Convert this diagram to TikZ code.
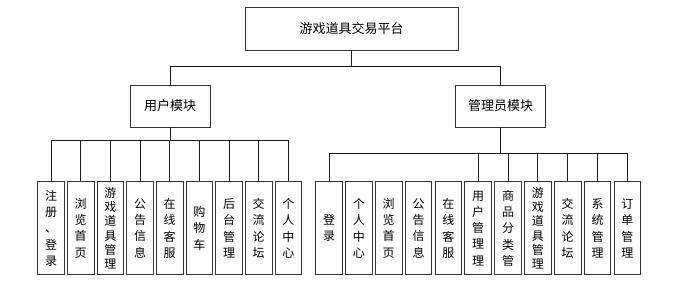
\documentclass[tikz,border=0pt]{standalone}
\usepackage{fontspec}
\setmainfont{Noto Sans CJK SC}
\begin{document}
\begin{tikzpicture}[x=1pt,y=-1pt,
  box/.style={draw=black!80,line width=0.9pt,fill=white,inner sep=0pt,align=center},
  topbox/.style={box,minimum width=213pt,minimum height=43pt,font=\fontsize{13}{15}\selectfont},
  midbox/.style={box,minimum height=42pt,font=\fontsize{13}{15}\selectfont},
  leaf/.style={box,minimum width=26.7pt,minimum height=93.3pt,text width=26.7pt,font=\fontsize{12}{16.3}\selectfont},
  leafsix/.style={leaf,font=\fontsize{12}{14.3}\selectfont},
  conn/.style={draw=black!90,line width=0.8pt}]
\useasboundingbox (0,0) rectangle (699,291);
\node[topbox] (top) at (351.5,28.5) {游戏道具交易平台};
\node[midbox,minimum width=80pt] (user) at (170.2,106) {用户模块};
\node[midbox,minimum width=90pt] (admin) at (500.7,106) {管理员模块};
% left leaves
\node[leaf] (L1) at (51,228.3) {注\\册\\、\\登\\录};
\node[leaf] (L2) at (80.7,228.3) {浏\\览\\首\\页};
\node[leafsix] (L3) at (110.3,228.3) {游\\戏\\道\\具\\管\\理};
\node[leaf] (L4) at (140,228.3) {公\\告\\信\\息};
\node[leaf] (L5) at (169.7,228.3) {在\\线\\客\\服};
\node[leaf] (L6) at (199.3,228.3) {购\\物\\车};
\node[leaf] (L7) at (229,228.3) {后\\台\\管\\理};
\node[leaf] (L8) at (258.7,228.3) {交\\流\\论\\坛};
\node[leaf] (L9) at (288.3,228.3) {个\\人\\中\\心};
% right leaves
\node[leaf] (R1) at (329,228.3) {登\\录};
\node[leaf] (R2) at (358.8,228.3) {个\\人\\中\\心};
\node[leaf] (R3) at (388.7,228.3) {浏\\览\\首\\页};
\node[leaf] (R4) at (418.5,228.3) {公\\告\\信\\息};
\node[leaf] (R5) at (448.3,228.3) {在\\线\\客\\服};
\node[leaf] (R6) at (478.2,228.3) {用\\户\\管\\理\\理};
\node[leaf] (R7) at (508,228.3) {商\\品\\分\\类\\管};
\node[leafsix] (R8) at (537.8,228.3) {游\\戏\\道\\具\\管\\理};
\node[leaf] (R9) at (567.6,228.3) {交\\流\\论\\坛};
\node[leaf] (R10) at (597.5,228.3) {系\\统\\管\\理};
\node[leaf] (R11) at (627.3,228.3) {订\\单\\管\\理};
% connectors
\coordinate (b1) at (351.5,66);
\coordinate (b2) at (170.2,140.7);
\coordinate (b3) at (500.7,153.3);
\draw[conn] (top.south) -- (b1);
\draw[conn] (b1) -| (user.north);
\draw[conn] (b1) -| (admin.north);
\draw[conn] (user.south) -- (b2);
\foreach \n in {L1,L2,L3,L4,L5,L6,L7,L8,L9} \draw[conn] (b2) -| (\n.north);
\draw[conn] (admin.south) -- (b3);
\foreach \n in {R1,R6,R7,R8,R9,R10,R11} \draw[conn] (b3) -| (\n.north);
\end{tikzpicture}
\end{document}
